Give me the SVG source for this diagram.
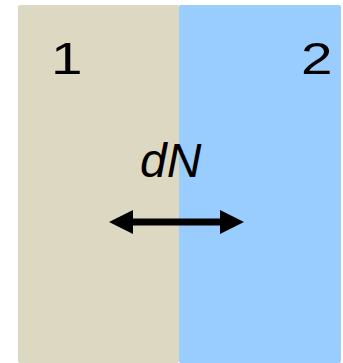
<svg xmlns="http://www.w3.org/2000/svg" width="343" height="363" viewBox="0 0 343 363">
<style>
.lbl{font-family:"Liberation Sans",Arial,sans-serif;fill:#000}
.num{font-size:45px}
.it{font-size:48px;font-style:italic}
</style>
<rect width="343" height="363" fill="#fff"/>
<g id="region1">
<rect x="18" y="5" width="161" height="358" rx="2" fill="#DDD8C2"/>
<text class="lbl num" transform="translate(51,74) scale(1.26,1)">1</text>
</g>
<g id="region2">
<rect x="179" y="5" width="162" height="358" rx="2" fill="#99CCFF"/>
<text class="lbl num" transform="translate(301,74) scale(1.26,1)">2</text>
</g>
<g id="label">
<text class="lbl it" x="140" y="177">dN</text>
</g>
<g id="connectors">
<line x1="130" y1="222" x2="223" y2="222" stroke="#000" stroke-width="7"/>
<polygon points="109,222 133,210 133,234"/>
<polygon points="244,222 220,210 220,234"/>
</g>
</svg>
